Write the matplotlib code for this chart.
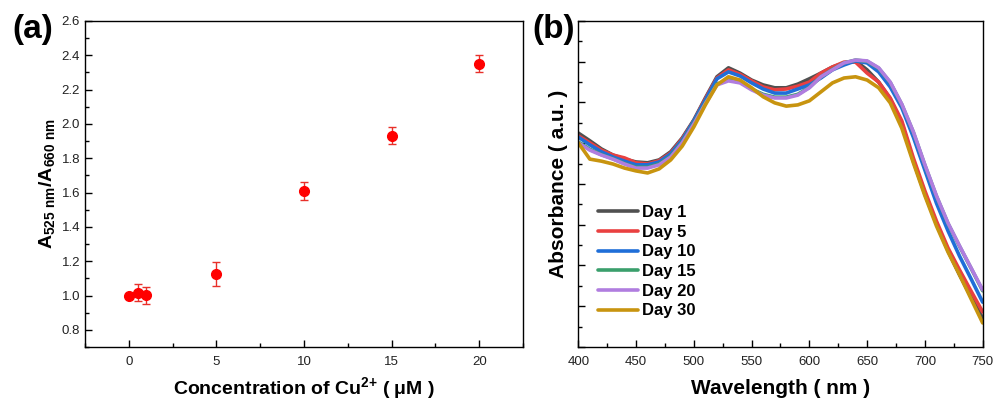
import numpy as np
import matplotlib
matplotlib.use('Agg')
import matplotlib.pyplot as plt
from matplotlib.ticker import MultipleLocator

plt.rcParams['font.family'] = ['Liberation Sans', 'DejaVu Sans']
plt.rcParams['mathtext.fontset'] = 'custom'
plt.rcParams['mathtext.rm'] = 'Liberation Sans'
plt.rcParams['mathtext.bf'] = 'Liberation Sans:bold'
plt.rcParams['mathtext.default'] = 'bf'


""" DATA """

# (a) ratio vs Cu2+ concentration
conc = [0, 0.5, 1, 5, 10, 15, 20]
ratio = [0.997, 1.017, 1.002, 1.126, 1.609, 1.931, 2.352]
ratio_err = [0.01, 0.05, 0.05, 0.069, 0.051, 0.05, 0.052]

# (b) absorption spectra over time
wavelength = [400, 410, 420, 430, 440, 450, 460, 470, 480, 490, 500, 510, 520, 530,
              540, 550, 560, 570, 580, 590, 600, 610, 620, 630, 640, 650, 660, 670,
              680, 690, 700, 710, 720, 730, 740, 750]

day1 = [0.525, 0.506, 0.486, 0.471, 0.461, 0.454, 0.452, 0.459, 0.479, 0.513, 0.557, 0.611,
        0.663, 0.685, 0.672, 0.655, 0.643, 0.636, 0.636, 0.645, 0.658, 0.672, 0.687, 0.697,
        0.702, 0.680, 0.650, 0.609, 0.550, 0.456, 0.375, 0.302, 0.236, 0.177, 0.123, 0.071]
day5 = [0.518, 0.501, 0.483, 0.471, 0.464, 0.452, 0.449, 0.457, 0.476, 0.511, 0.555, 0.609,
        0.660, 0.680, 0.669, 0.653, 0.638, 0.631, 0.633, 0.640, 0.650, 0.672, 0.687, 0.699,
        0.699, 0.672, 0.650, 0.611, 0.555, 0.464, 0.383, 0.309, 0.243, 0.189, 0.137, 0.086]
day10 = [0.515, 0.496, 0.479, 0.466, 0.456, 0.447, 0.447, 0.454, 0.474, 0.508, 0.555, 0.606,
         0.658, 0.675, 0.665, 0.648, 0.633, 0.623, 0.623, 0.633, 0.643, 0.660, 0.680, 0.692,
         0.702, 0.697, 0.675, 0.638, 0.587, 0.515, 0.434, 0.353, 0.285, 0.223, 0.167, 0.110]
day15 = [0.503, 0.485, 0.472, 0.462, 0.450, 0.441, 0.441, 0.449, 0.468, 0.503, 0.549, 0.599,
         0.645, 0.655, 0.650, 0.633, 0.620, 0.613, 0.613, 0.620, 0.637, 0.663, 0.681, 0.697,
         0.704, 0.701, 0.684, 0.649, 0.595, 0.527, 0.446, 0.370, 0.303, 0.247, 0.193, 0.138]
day20 = [0.501, 0.483, 0.471, 0.461, 0.449, 0.439, 0.439, 0.447, 0.466, 0.501, 0.547, 0.597,
         0.643, 0.653, 0.648, 0.631, 0.618, 0.611, 0.611, 0.618, 0.636, 0.663, 0.680, 0.697,
         0.704, 0.702, 0.685, 0.650, 0.596, 0.528, 0.447, 0.371, 0.304, 0.248, 0.194, 0.140]
day30 = [0.501, 0.461, 0.456, 0.449, 0.439, 0.432, 0.427, 0.437, 0.459, 0.493, 0.540, 0.594,
         0.643, 0.663, 0.655, 0.636, 0.614, 0.599, 0.591, 0.594, 0.604, 0.626, 0.648, 0.660,
         0.663, 0.655, 0.636, 0.599, 0.537, 0.452, 0.371, 0.297, 0.233, 0.177, 0.118, 0.059]

day_labels = ['Day 1', 'Day 5', 'Day 10', 'Day 15', 'Day 20', 'Day 30']
day_colors = ['#505050', '#e94040', '#1f6ed8', '#3a9f6c', '#b07ddf', '#c8940f']


""" PLOTTING """

fig = plt.figure(figsize=(9.96, 4.03), dpi=100)
ax1 = fig.add_axes([0.0853, 0.139, 0.4398, 0.809])
ax2 = fig.add_axes([0.5806, 0.139, 0.406, 0.809])

# panel a
ax1.errorbar(conc, ratio, yerr=ratio_err, fmt='o', color='#ff0000', ms=7,
             ecolor='#e8302a', elinewidth=1.0, capsize=3, capthick=1.0)
ax1.set_xlim(-2.5, 22.5)
ax1.set_ylim(0.7, 2.6)
ax1.xaxis.set_major_locator(MultipleLocator(5))
ax1.xaxis.set_minor_locator(MultipleLocator(2.5))
ax1.yaxis.set_minor_locator(MultipleLocator(0.1))
ax1.set_yticks(np.arange(0.8, 2.61, 0.2))
ax1.set_xlabel(r'Concentration of Cu$^{2{+}}$ ( μM )', fontsize=14, fontweight='bold')
ax1.set_ylabel(r'$A_{525\ nm}/A_{660\ nm}$', fontsize=14)
ax1.xaxis.set_label_coords(0.5, -0.126)
ax1.yaxis.set_label_coords(-0.087, 0.5)

# panel b
lines = [day1, day5, day10, day15, day20, day30]
for vals, lab, col in zip(lines, day_labels, day_colors):
    ax2.plot(wavelength, vals, color=col, lw=2.6, label=lab, solid_capstyle='round')
ax2.set_xlim(400, 750)
ax2.set_ylim(0, 0.8)
ax2.xaxis.set_major_locator(MultipleLocator(50))
ax2.xaxis.set_minor_locator(MultipleLocator(25))
ax2.yaxis.set_major_locator(MultipleLocator(0.1))
ax2.yaxis.set_minor_locator(MultipleLocator(0.05))
ax2.set_yticklabels([])
ax2.set_xlabel('Wavelength ( nm )', fontsize=15, fontweight='bold')
ax2.set_ylabel('Absorbance ( a.u. )', fontsize=15, fontweight='bold')
ax2.xaxis.set_label_coords(0.5, -0.126)
ax2.yaxis.set_label_coords(-0.05, 0.5)
ax2.legend(loc='upper left', bbox_to_anchor=(0.049, 0.435), frameon=False,
           prop={'size': 12, 'weight': 'bold'}, handlelength=2.4, handletextpad=0.25,
           labelspacing=0.28, borderpad=0, borderaxespad=0)

for ax in (ax1, ax2):
    ax.tick_params(which='both', direction='in', top=False, right=False,
                   labelsize=9.5, labelcolor='#222222', width=1)
    ax.tick_params(which='major', length=5)
    ax.tick_params(which='minor', length=3)
    ax.tick_params(axis='x', pad=6.5)
    ax.xaxis.label.set_verticalalignment('center')
    ax.yaxis.label.set_verticalalignment('center')
    for s in ax.spines.values():
        s.set_linewidth(1.0)

fig.text(0.012, 0.928, '(a)', fontsize=24, fontweight='bold', va='center')
fig.text(0.535, 0.928, '(b)', fontsize=24, fontweight='bold', va='center')

plt.savefig('out.png', dpi=100)
